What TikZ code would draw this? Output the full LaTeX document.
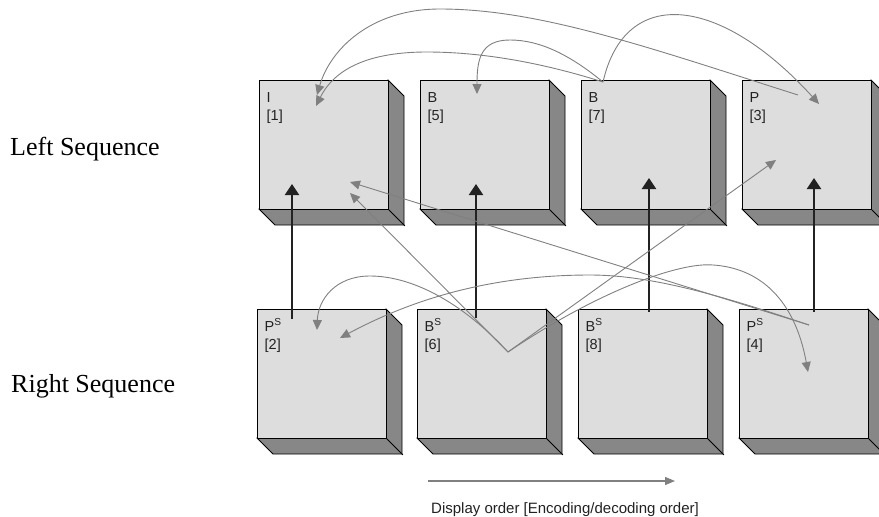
\documentclass[tikz,border=0pt]{standalone}
\usepackage{fontspec}
\setmainfont{Liberation Serif}
\newfontfamily\arialf{Liberation Sans}
\usetikzlibrary{arrows.meta}
\definecolor{frontc}{HTML}{DDDDDD}
\definecolor{sidec}{HTML}{878787}
\definecolor{refc}{HTML}{808080}
\definecolor{labc}{HTML}{222222}
\tikzset{
 frontface/.style={draw=black, line width=0.9pt, fill=frontc, minimum width=129pt, minimum height=129pt, inner sep=0pt, anchor=north west},
 sideface/.style={draw=black, line width=0.9pt, fill=sidec, line join=miter},
 lab/.style={font=\arialf\fontsize{14.5}{17}\selectfont, text=labc, anchor=base west, inner sep=0pt},
 refarrow/.style={draw=refc, line width=0.9pt, -{Triangle[length=10pt,width=9pt]}},
 deparrow/.style={draw=labc, line width=2pt, -{Triangle[length=11pt,width=14pt]}},
 seqtext/.style={font=\fontsize{26}{30}\selectfont, anchor=base west, inner sep=0pt},
}
\newcommand\mkcube[5]{%
 \path[sideface] (#2+129,#3) -- (#2+145,#3+16) -- (#2+145,#3+145) -- (#2+16,#3+145) -- (#2,#3+129) -- cycle;
 \node[frontface] (#1) at (#2,#3) {};
 \draw[black,line width=0.9pt] (#1.south east) -- ++(16,16);
 \node[lab] (#1t) at (#2+7.5,#3+22) {#4};
 \node[lab] (#1o) at (#2+7.5,#3+40) {[#5]};
}
\begin{document}
\begin{tikzpicture}[x=1pt,y=-1pt]
\useasboundingbox (0,0) rectangle (879,517);
\clip (0,0) rectangle (879,517);
% top row
\mkcube{L1}{259}{80}{I}{1}
\mkcube{L2}{420}{80}{B}{5}
\mkcube{L3}{581}{80}{B}{7}
\mkcube{L4}{742}{80}{P}{3}
% bottom row
\mkcube{R1}{257}{309}{P\textsuperscript{S}}{2}
\mkcube{R2}{417}{309}{B\textsuperscript{S}}{6}
\mkcube{R3}{578}{309}{B\textsuperscript{S}}{8}
\mkcube{R4}{739}{309}{P\textsuperscript{S}}{4}
% side labels
\node[seqtext] (lseq) at (10,155) {Left Sequence};
\node[seqtext] (rseq) at (11,392) {Right Sequence};
% inter-view dependency arrows
\coordinate (r1s) at (292,319); \coordinate (l1e) at (292,184);
\coordinate (r2s) at (476,318); \coordinate (l2e) at (476,184);
\coordinate (r3s) at (649,312); \coordinate (l3e) at (649,178);
\coordinate (r4s) at (814,312); \coordinate (l4e) at (814,178);
\draw[deparrow] (r1s) -- (l1e);
\draw[deparrow] (r2s) -- (l2e);
\draw[deparrow] (r3s) -- (l3e);
\draw[deparrow] (r4s) -- (l4e);
% reference points
\coordinate (b7) at (603,82);
\coordinate (p3) at (798,95);
\coordinate (ps4) at (809,325);
\coordinate (v6) at (508,352);
\coordinate (i1a) at (317,95);
\coordinate (i1b) at (316,106);
\coordinate (b5a) at (477,94);
\coordinate (p3a) at (819,104);
\coordinate (i1c) at (350,182);
\coordinate (i1d) at (350,193);
\coordinate (p3b) at (776,160);
\coordinate (ps4a) at (808,372);
\coordinate (ps2a) at (340,338);
\coordinate (ps2b) at (317,330);
% temporal references
\draw[refarrow] (p3) .. controls (650,48) and (540,9) .. (440,9) .. controls (370,9) and (330,50) .. (i1a);
\draw[refarrow] (b7) .. controls (540,62) and (480,52) .. (427,52) .. controls (370,52) and (335,68) .. (i1b);
\draw[refarrow] (b7) .. controls (570,55) and (540,40) .. (510,40) .. controls (480,40) and (477,60) .. (b5a);
\draw[refarrow] (b7) .. controls (625,-15) and (720,-5) .. (p3a);
\draw[refarrow] (ps4) -- (i1c);
\draw[refarrow] (v6) -- (i1d);
\draw[refarrow] (v6) -- (p3b);
\draw[refarrow] (v6) .. controls (600,290) and (680,262) .. (713,265) .. controls (760,268) and (795,300) .. (ps4a);
\draw[refarrow] (ps4) .. controls (720,295) and (650,275) .. (590,275) .. controls (500,275) and (420,295) .. (ps2a);
\draw[refarrow] (v6) .. controls (460,300) and (410,276) .. (370,276) .. controls (335,276) and (318,300) .. (ps2b);
% display order legend
\coordinate (d0) at (428,481); \coordinate (d1) at (675,481);
\draw[draw=refc, line width=1.3pt, -{Triangle[length=10pt,width=8pt]}] (d0) -- (d1);
\node[font=\arialf\fontsize{15}{18}\selectfont, text=labc, anchor=base west, inner sep=0pt] (disp) at (431,513) {Display order [Encoding/decoding order]};
\end{tikzpicture}
\end{document}
